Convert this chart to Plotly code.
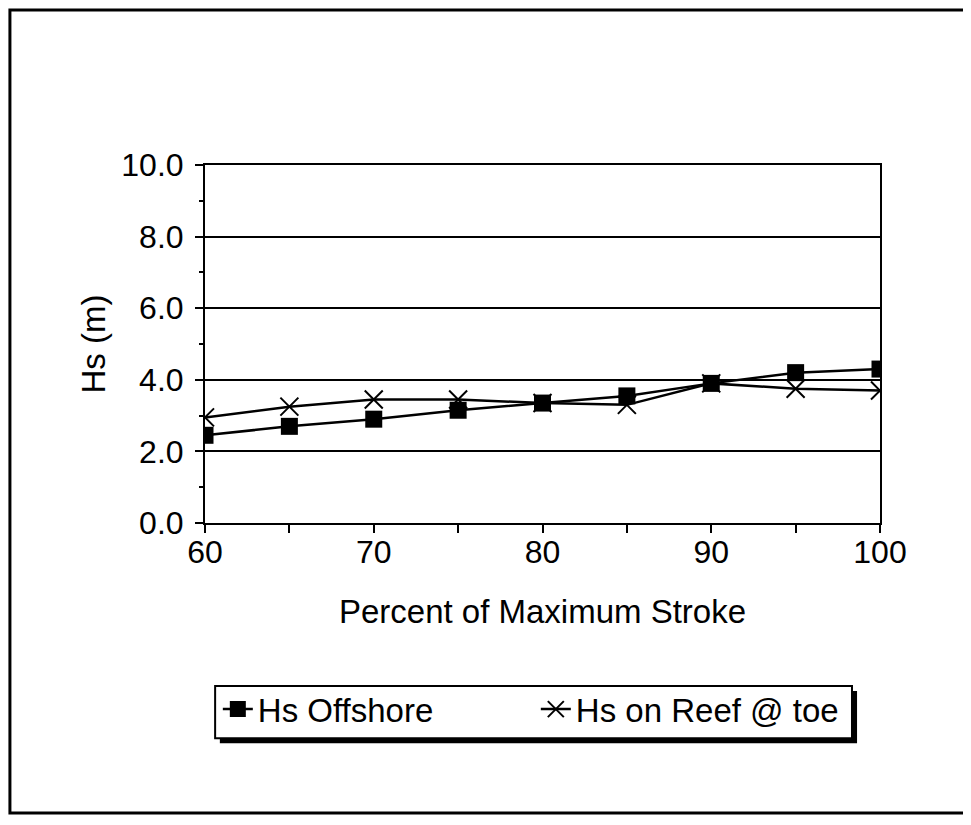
import plotly.graph_objects as go

# Data
stroke_pct = [60, 65, 70, 75, 80, 85, 90, 95, 100]
hs_offshore = [2.45, 2.7, 2.9, 3.15, 3.35, 3.55, 3.9, 4.2, 4.3]
hs_reef_toe = [2.95, 3.25, 3.45, 3.45, 3.35, 3.3, 3.9, 3.75, 3.7]

FONT = "Liberation Sans, Arial, sans-serif"

fig = go.Figure()

fig.add_trace(go.Scatter(
    x=stroke_pct, y=hs_offshore, mode='lines+markers', name='Hs Offshore',
    line=dict(color='black', width=2.5),
    marker=dict(symbol='square', size=17, color='black')
))

fig.add_trace(go.Scatter(
    x=stroke_pct, y=hs_reef_toe, mode='lines+markers', name='Hs on Reef @ toe',
    line=dict(color='black', width=2.5),
    marker=dict(symbol='x-thin-open', size=18, line=dict(color='black', width=2))
))

# Outer frame, legend box and its shadow (paper coords)
shapes = [
    dict(type='rect', xref='paper', yref='paper', x0=-0.289, x1=1.13, y0=-0.81, y1=1.433,
         line=dict(color='black', width=3), fillcolor='rgba(0,0,0,0)', layer='below'),
    dict(type='rect', xref='paper', yref='paper', x0=0.022, x1=0.966, y0=-0.615, y1=-0.469,
         line=dict(color='black', width=0), fillcolor='black', layer='below'),
    dict(type='rect', xref='paper', yref='paper', x0=0.015, x1=0.9585, y0=-0.601, y1=-0.455,
         line=dict(color='black', width=2), fillcolor='white', layer='below'),
]

fig.update_layout(
    width=971, height=825,
    # page body adds 8px offset, so margins are shifted by that amount
    margin=dict(l=197, r=99, t=157, b=310),
    paper_bgcolor='white', plot_bgcolor='white',
    font=dict(family=FONT, size=33, color='black'),
    shapes=shapes,
    showlegend=True,
    legend=dict(
        orientation='h', x=0.019, y=-0.52, xanchor='left', yanchor='middle',
        bgcolor='rgba(0,0,0,0)', borderwidth=0,
        font=dict(family=FONT, size=33, color='black'),
        itemwidth=30, entrywidth=273, entrywidthmode='pixels',
        traceorder='normal'
    ),
    xaxis=dict(
        range=[60, 100], dtick=10, tick0=60,
        showgrid=False, zeroline=False,
        showline=True, linecolor='black', linewidth=2, mirror=True,
        ticks='outside', ticklen=8, tickwidth=1.5, tickcolor='black',
        minor=dict(dtick=5, ticks='outside', ticklen=8, tickwidth=1.5, tickcolor='black'),
        tickfont=dict(size=32), ticklabelstandoff=-8,
        title=dict(text='Percent of Maximum Stroke', font=dict(size=33), standoff=30),
    ),
    yaxis=dict(
        range=[0, 10], dtick=2, tickformat='.1f',
        showgrid=True, gridcolor='black', gridwidth=2, zeroline=False,
        showline=True, linecolor='black', linewidth=2, mirror=True,
        ticks='outside', ticklen=8, tickwidth=1.5, tickcolor='black',
        minor=dict(dtick=1, ticks='outside', ticklen=4, tickwidth=1.5, tickcolor='black'),
        tickfont=dict(size=32), ticklabelstandoff=5,
        title=dict(text='Hs (m)', font=dict(size=33), standoff=6),
    ),
)

fig.write_html("out.html")
